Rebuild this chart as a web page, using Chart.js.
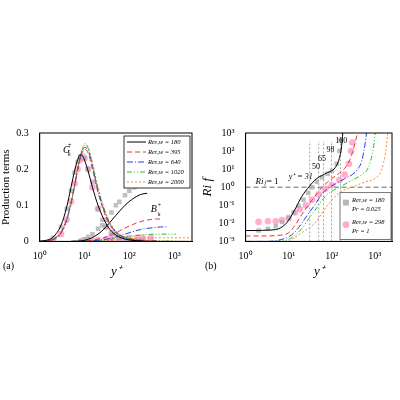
<!DOCTYPE html>
<html><head><meta charset="utf-8">
<script src="https://cdn.jsdelivr.net/npm/chart.js@4"></script>
<style>
body{margin:0;background:#fff;width:400px;height:400px;position:relative;font-family:"Liberation Serif",serif}
.w{position:absolute;top:124px;width:200px;height:155px}
.lab{position:absolute;top:260px;font-size:10px}
</style></head><body>
<div class="w" style="left:0"><canvas id="ca"></canvas></div>
<div class="w" style="left:200px"><canvas id="cb"></canvas></div>
<div class="lab" style="left:3px">(a)</div>
<div class="lab" style="left:205px">(b)</div>
<script>
const reLabels = ["Re\u03c4,w = 180", "Re\u03c4,w = 395", "Re\u03c4,w = 640", "Re\u03c4,w = 1020", "Re\u03c4,w = 2000"];
const colors = ["#000000", "#e8352e", "#2d3be0", "#22c022", "#f08a3a"];
const dashes = [[], [5, 3], [6, 2, 1, 2], [5, 2, 1, 2, 1, 2], [2, 2]];

// panel (a): G_k^+ production
const gY = [1, 1.5, 2, 3, 4, 5, 6, 7, 8, 9, 10, 12, 15, 20, 30, 40, 60, 100, 200, 400, 1000, 2000];
const gk180 = [0, 0.004, 0.012, 0.045, 0.095, 0.15, 0.195, 0.225, 0.24, 0.237, 0.225, 0.195, 0.15, 0.1, 0.05, 0.028, 0.012, 0.004, 0.001];
const gk395 = [0, 0.002, 0.006, 0.026, 0.062, 0.108, 0.155, 0.197, 0.228, 0.247, 0.255, 0.245, 0.2, 0.135, 0.068, 0.038, 0.016, 0.006, 0.002, 0.001];
const gk640 = [0, 0.002, 0.005, 0.024, 0.06, 0.106, 0.154, 0.198, 0.232, 0.252, 0.26, 0.252, 0.208, 0.14, 0.072, 0.041, 0.018, 0.007, 0.002, 0.001];
const gk1020 = [0, 0.002, 0.005, 0.023, 0.058, 0.104, 0.153, 0.198, 0.234, 0.256, 0.266, 0.258, 0.213, 0.145, 0.075, 0.043, 0.019, 0.008, 0.003, 0.001, 0.0005];
const gk2000 = [0, 0.002, 0.005, 0.022, 0.057, 0.103, 0.152, 0.198, 0.235, 0.258, 0.27, 0.262, 0.218, 0.15, 0.078, 0.045, 0.02, 0.009, 0.004, 0.002, 0.001, 0.0005];
// B_k^+ buoyancy production
const bY = [5, 10, 20, 30, 50, 80, 120, 180, 250, 400, 500, 700, 1100, 2200];
const bk180 = [0, 0.003, 0.02, 0.04, 0.072, 0.1, 0.118, 0.13, 0.133];
const bk395 = [0, 0.001, 0.006, 0.012, 0.024, 0.037, 0.047, 0.055, 0.059, 0.062, 0.062];
const bk640 = [0, 0.0005, 0.003, 0.006, 0.012, 0.02, 0.027, 0.033, 0.036, 0.039, 0.04, 0.04];
const bk1020 = [0, 0.0003, 0.002, 0.004, 0.008, 0.012, 0.015, 0.018, 0.019, 0.02, 0.02, 0.02, 0.02];
const bk2000 = [0, 0.0002, 0.001, 0.002, 0.004, 0.006, 0.008, 0.009, 0.01, 0.01, 0.01, 0.01, 0.01, 0.01];
// symbols in (a)
const sqGX = [2, 3, 4, 5, 6, 7, 8, 10, 12, 15, 20, 25, 30, 40, 50, 60, 80, 100, 130, 160, 200];
const sqG = [0.01, 0.04, 0.09, 0.14, 0.19, 0.22, 0.235, 0.23, 0.2, 0.165, 0.09, 0.06, 0.04, 0.025, 0.02, 0.01, 0.005, 0.003, 0.002, 0.001, 0.001];
const sqB = [0, 0, 0, 0, 0, 0, 0.002, 0.006, 0.012, 0.02, 0.035, 0.045, 0.06, 0.08, 0.1, 0.11, 0.128, 0.14, 0.15, 0.155, 0.16];
const ciX = [2, 3, 4, 5, 6, 7, 8, 9, 10, 12, 15, 20, 30, 40, 60, 100, 150, 200, 300];
const ciG = [0.005, 0.02, 0.06, 0.11, 0.16, 0.2, 0.225, 0.235, 0.23, 0.2, 0.15, 0.09, 0.04, 0.02, 0.008, 0.003, 0.002, 0.001, 0.001];
const ciB = [0, 0, 0, 0, 0, 0, 0, 0.001, 0.001, 0.002, 0.003, 0.004, 0.006, 0.007, 0.008, 0.009, 0.01, 0.01, 0.01];

// panel (b): Ri_f
const rY = [1, 2, 3, 5, 8, 10, 15, 20, 31, 40, 50, 65, 80, 98, 120, 150, 170, 180];
const ri180 = [0.004, 0.004, 0.0042, 0.0045, 0.008, 0.015, 0.08, 0.3, 1.2, 2.4, 3.6, 5, 6.5, 8, 12, 40, 200, 1000];
const rY395 = [1, 3, 5, 10, 15, 20, 30, 40, 60, 100, 150, 200, 250, 300, 350, 395];
const ri395 = [0.002, 0.002, 0.0021, 0.003, 0.01, 0.03, 0.12, 0.3, 1, 3, 6, 11, 25, 80, 300, 1000];
const rY640 = [1, 3, 5, 10, 15, 20, 30, 40, 60, 90, 150, 200, 300, 400, 500, 600, 640];
const ri640 = [0.001, 0.001, 0.0011, 0.0018, 0.004, 0.01, 0.04, 0.1, 0.45, 1, 2, 3, 5, 10, 30, 300, 1000];
const rY1020 = [5, 10, 20, 30, 40, 70, 100, 150, 300, 500, 700, 900, 1000, 1020];
const ri1020 = [0.001, 0.0013, 0.005, 0.02, 0.05, 0.3, 0.6, 1, 2.5, 5, 12, 100, 600, 1000];
const rY2000 = [10, 20, 40, 80, 150, 300, 600, 1000, 1400, 1800, 2000];
const ri2000 = [0.001, 0.003, 0.01, 0.1, 0.5, 1, 2, 3, 8, 100, 1000];
const sqRX = [2, 3.3, 5, 7, 10, 13, 17, 22, 28, 35, 45, 60, 80, 100, 130, 150, 160];
const sqR = [0.004, 0.005, 0.007, 0.012, 0.02, 0.04, 0.09, 0.2, 0.5, 1, 2, 3.5, 5.5, 8, 20, 100, 400];
const ciRX = [2, 3.3, 5, 7, 10, 14, 18, 25, 35, 50, 70, 100, 150, 200, 250, 280, 300];
const ciR = [0.012, 0.013, 0.013, 0.015, 0.02, 0.04, 0.06, 0.1, 0.2, 0.4, 0.8, 1.3, 2.5, 5, 20, 100, 300];
const riMarks = [31, 50, 65, 98, 160];

const serif = "'Liberation Serif', serif";
Chart.defaults.font.family = serif;
Chart.defaults.color = "#000";
Chart.defaults.animation = false;

const pts = (xs, ys) => ys.map((v, i) => ({x: xs[i], y: v}));
const sup = {"0": "\u2070", "1": "\u00b9", "2": "\u00b2", "3": "\u00b3", "-": "\u207b"};
const pow10 = v => { const e = Math.round(Math.log10(v)); return Math.abs(Math.log10(v) - e) < 1e-6 ? "10" + String(e).split("").map(c => sup[c]).join("") : ""; };

function lineSets(xs, arrs, xsArr) {
  return arrs.map((a, i) => ({
    label: reLabels[i], data: pts(xsArr ? xsArr[i] : xs, a), borderColor: colors[i], borderWidth: 1,
    borderDash: dashes[i], pointRadius: 0, cubicInterpolationMode: "monotone", fill: false
  }));
}
function symSet(xs, ys, sq) {
  return {label: "", data: pts(xs, ys), showLine: false, pointStyle: sq ? "rect" : "circle",
    pointRadius: sq ? 3.2 : 3.3, backgroundColor: sq ? "rgba(175,175,175,0.8)" : "rgba(255,160,200,0.85)", borderWidth: 0};
}
function xAxis() {
  return {type: "logarithmic", min: 1, max: 2500,
    title: {display: true, text: "y\u207a", font: {size: 13, style: "italic"}, padding: 0},
    ticks: {font: {size: 10}, autoSkip: false, maxRotation: 0, padding: 1, callback: pow10},
    grid: {display: false}, border: {color: "#000"}};
}

const text = (ctx, s, x, y, size, italic) => { ctx.font = (italic ? "italic " : "") + size + "px " + serif; ctx.fillText(s, x, y); };
const frame = {id: "frame", afterDraw(c) {
  const a = c.chartArea, ctx = c.ctx;
  ctx.save(); ctx.strokeStyle = "#000"; ctx.lineWidth = 1;
  ctx.strokeRect(a.left, a.top, a.right - a.left, a.bottom - a.top); ctx.restore();
}};

const annA = {id: "annA", afterDatasetsDraw(c) {
  const ctx = c.ctx, a = c.chartArea;
  ctx.save(); ctx.fillStyle = "#000";
  text(ctx, "G", c.scales.x.getPixelForValue(3.3), c.scales.y.getPixelForValue(0.245), 10, true);
  text(ctx, "k", c.scales.x.getPixelForValue(4.3), c.scales.y.getPixelForValue(0.235), 6, true);
  text(ctx, "+", c.scales.x.getPixelForValue(4.3), c.scales.y.getPixelForValue(0.26), 6, false);
  text(ctx, "B", c.scales.x.getPixelForValue(300), c.scales.y.getPixelForValue(0.08), 10, true);
  text(ctx, "k", c.scales.x.getPixelForValue(430), c.scales.y.getPixelForValue(0.07), 6, true);
  text(ctx, "+", c.scales.x.getPixelForValue(430), c.scales.y.getPixelForValue(0.095), 6, false);
  // legend
  const lx = a.right - 68, ly = a.top + 3, lw = 66, lh = 52;
  ctx.fillStyle = "#fff"; ctx.fillRect(lx, ly, lw, lh);
  ctx.strokeStyle = "#000"; ctx.lineWidth = 0.8; ctx.strokeRect(lx, ly, lw, lh);
  reLabels.forEach((l, i) => {
    const yy = ly + 6 + i * 10;
    ctx.strokeStyle = colors[i]; ctx.setLineDash(dashes[i]); ctx.lineWidth = 1;
    ctx.beginPath(); ctx.moveTo(lx + 3, yy); ctx.lineTo(lx + 22, yy); ctx.stroke();
    ctx.setLineDash([]); ctx.fillStyle = "#000"; ctx.textBaseline = "middle";
    text(ctx, l, lx + 24, yy, 6.5, true);
  });
  ctx.restore();
}};

const annB = {id: "annB", beforeDatasetsDraw(c) {
  const ctx = c.ctx, a = c.chartArea, x = c.scales.x, y = c.scales.y;
  ctx.save(); ctx.lineWidth = 0.6; ctx.strokeStyle = "#666";
  ctx.setLineDash([2, 2]);
  riMarks.forEach(m => { const px = x.getPixelForValue(m); ctx.beginPath(); ctx.moveTo(px, a.bottom); ctx.lineTo(px, a.top + 8); ctx.stroke(); });
  ctx.strokeStyle = "#000"; ctx.setLineDash([5, 3]);
  const py = y.getPixelForValue(1);
  ctx.beginPath(); ctx.moveTo(a.left, py); ctx.lineTo(a.right, py); ctx.stroke();
  ctx.restore();
}, afterDatasetsDraw(c) {
  const ctx = c.ctx, a = c.chartArea, x = c.scales.x, y = c.scales.y;
  ctx.save(); ctx.fillStyle = "#000";
  text(ctx, "Ri", x.getPixelForValue(1.7), y.getPixelForValue(1.6), 9, true);
  text(ctx, "f", x.getPixelForValue(2.75), y.getPixelForValue(1.3), 6, true);
  text(ctx, "= 1", x.getPixelForValue(3.1), y.getPixelForValue(1.6), 9, false);
  text(ctx, "y\u207a = 31", x.getPixelForValue(10), y.getPixelForValue(3), 8, true);
  text(ctx, "50", x.getPixelForValue(35), y.getPixelForValue(10), 8, false);
  text(ctx, "65", x.getPixelForValue(48), y.getPixelForValue(28), 8, false);
  text(ctx, "98", x.getPixelForValue(75), y.getPixelForValue(90), 8, false);
  text(ctx, "160", x.getPixelForValue(120), y.getPixelForValue(280), 8, false);
  // symbol legend
  const lx = a.right - 52, ly = y.getPixelForValue(0.5), lw = 51, lh = a.bottom - ly - 2;
  ctx.fillStyle = "#fff"; ctx.fillRect(lx, ly, lw, lh);
  ctx.strokeStyle = "#555"; ctx.lineWidth = 0.8; ctx.strokeRect(lx, ly, lw, lh);
  ctx.fillStyle = "rgba(175,175,175,0.9)"; ctx.fillRect(lx + 3, ly + 7, 6, 6);
  ctx.fillStyle = "rgba(255,160,200,0.9)"; ctx.beginPath(); ctx.arc(lx + 6, ly + 32, 3.3, 0, 7); ctx.fill();
  ctx.fillStyle = "#000"; ctx.textBaseline = "middle";
  text(ctx, "Re\u03c4,w = 180", lx + 12, ly + 8, 6.5, true);
  text(ctx, "Pr = 0.025", lx + 12, ly + 17, 6.5, true);
  text(ctx, "Re\u03c4,w = 298", lx + 12, ly + 30, 6.5, true);
  text(ctx, "Pr = 1", lx + 12, ly + 39, 6.5, true);
  ctx.restore();
}};

new Chart(document.getElementById("ca"), {
  type: "line",
  data: {datasets: [
    ...lineSets(gY, [gk180, gk395, gk640, gk1020, gk2000]),
    ...lineSets(bY, [bk180, bk395, bk640, bk1020, bk2000]),
    symSet(sqGX, sqG, true), symSet(sqGX.slice(6), sqB.slice(6), true),
    symSet(ciX, ciG, false), symSet(ciX.slice(7), ciB.slice(7), false)
  ]},
  options: {responsive: true, maintainAspectRatio: false, layout: {padding: {right: 8, top: 4}},
    plugins: {legend: {display: false}, tooltip: {enabled: false}},
    scales: {x: xAxis(),
      y: {min: 0, max: 0.3, title: {display: true, text: "Production terms", font: {size: 11}, padding: 0},
        ticks: {stepSize: 0.1, font: {size: 10}, callback: v => v === 0 ? "0" : v.toFixed(1)},
        grid: {display: false}, border: {color: "#000"}}}},
  plugins: [annA, frame]
});

new Chart(document.getElementById("cb"), {
  type: "line",
  data: {datasets: [
    ...lineSets(null, [ri180, ri395, ri640, ri1020, ri2000], [rY, rY395, rY640, rY1020, rY2000]),
    symSet(sqRX, sqR, true), symSet(ciRX, ciR, false)
  ]},
  options: {responsive: true, maintainAspectRatio: false, layout: {padding: {right: 8, top: 4}},
    plugins: {legend: {display: false}, tooltip: {enabled: false}},
    scales: {x: xAxis(),
      y: {type: "logarithmic", min: 0.001, max: 1000,
        title: {display: true, text: "Ri f", font: {size: 13, style: "italic"}, padding: 0},
        ticks: {font: {size: 10}, autoSkip: false, callback: pow10},
        afterBuildTicks: s => { s.ticks = [1e-3, 1e-2, 1e-1, 1, 10, 100, 1000].map(v => ({value: v})); },
        grid: {display: false}, border: {color: "#000"}}}},
  plugins: [annB, frame]
});
</script>
</body></html>
